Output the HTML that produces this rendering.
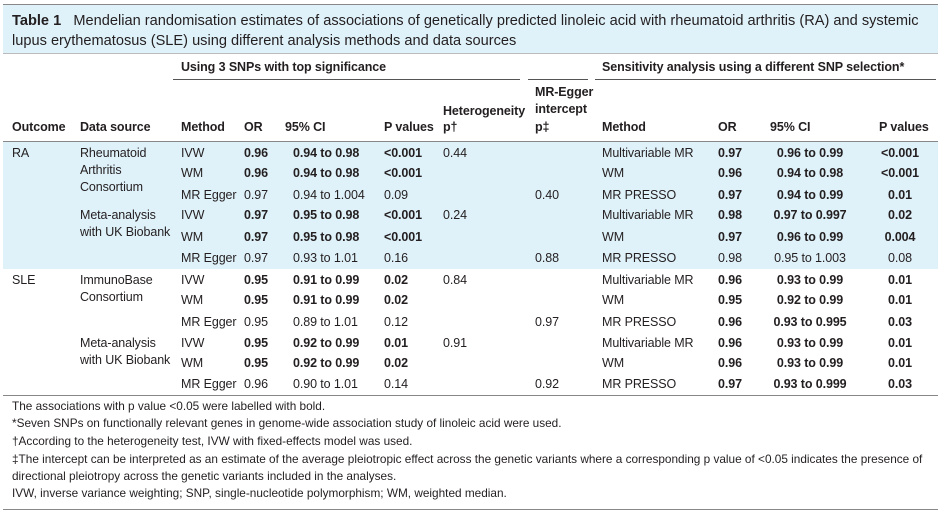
<!DOCTYPE html>
<html><head><meta charset="utf-8"><style>
body{margin:0;width:940px;height:514px;position:relative;background:#fff;font-family:"Liberation Sans",sans-serif;color:#231f20;overflow:hidden}
.t{position:absolute;font-size:12.5px;line-height:16px;white-space:nowrap;letter-spacing:-0.1px}
.b{font-weight:bold}
.c{transform:translateX(-50%)}
.bg{position:absolute;background:#dff1f9}
.ln{position:absolute;height:1px;background:#555}
.f{position:absolute;left:12px;font-size:11.8px;line-height:16px;white-space:nowrap;letter-spacing:0px}
</style></head><body>
<div class="bg" style="left:3px;top:4px;width:935px;height:49px"></div>
<div class="ln" style="left:3px;top:4px;width:935px;background:#888"></div>
<div class="ln" style="left:3px;top:53px;width:935px;background:#bbb"></div>
<div class="t" style="left:12px;top:11px;font-size:14.6px;line-height:20px;letter-spacing:0px"><b>Table 1</b>&nbsp;&nbsp;&nbsp;Mendelian randomisation estimates of associations of genetically predicted linoleic acid with rheumatoid arthritis (RA) and systemic</div>
<div class="t" style="left:12px;top:31px;font-size:14.6px;line-height:20px;letter-spacing:0px">lupus erythematosus (SLE) using different analysis methods and data sources</div>
<div class="bg" style="left:3px;top:142px;width:935px;height:127px"></div>
<div class="t b" style="left:181px;top:59px">Using 3 SNPs with top significance</div>
<div class="t b" style="left:602px;top:59px">Sensitivity analysis using a different SNP selection*</div>
<div class="ln" style="left:173px;top:79px;width:347px"></div>
<div class="ln" style="left:528px;top:79px;width:60px"></div>
<div class="ln" style="left:595px;top:79px;width:341px"></div>
<div class="t b" style="left:443px;top:103px">Heterogeneity</div>
<div class="t b" style="left:535px;top:84px">MR-Egger</div>
<div class="t b" style="left:535px;top:101px">intercept</div>
<div class="t b" style="left:12px;top:119px">Outcome</div>
<div class="t b" style="left:80px;top:119px">Data source</div>
<div class="t b" style="left:181px;top:119px">Method</div>
<div class="t b" style="left:244px;top:119px">OR</div>
<div class="t b" style="left:285px;top:119px">95% CI</div>
<div class="t b" style="left:384px;top:119px">P values</div>
<div class="t b" style="left:443px;top:119px">p†</div>
<div class="t b" style="left:535px;top:119px">p‡</div>
<div class="t b" style="left:602px;top:119px">Method</div>
<div class="t b" style="left:718px;top:119px">OR</div>
<div class="t b" style="left:770px;top:119px">95% CI</div>
<div class="t b" style="left:879px;top:119px">P values</div>
<div class="ln" style="left:3px;top:141px;width:935px;background:#888"></div>
<div class="t" style="left:12px;top:145px">RA</div>
<div class="t" style="left:80px;top:145px">Rheumatoid</div>
<div class="t" style="left:80px;top:162px">Arthritis</div>
<div class="t" style="left:80px;top:179px">Consortium</div>
<div class="t" style="left:80px;top:207px">Meta-analysis</div>
<div class="t" style="left:80px;top:224px">with UK Biobank</div>
<div class="t" style="left:12px;top:272px">SLE</div>
<div class="t" style="left:80px;top:272px">ImmunoBase</div>
<div class="t" style="left:80px;top:289px">Consortium</div>
<div class="t" style="left:80px;top:335px">Meta-analysis</div>
<div class="t" style="left:80px;top:352px">with UK Biobank</div>
<div id="rows"></div>
<div class="ln" style="left:3px;top:395px;width:935px;background:#888"></div>
<div class="f" style="top:398px">The associations with p value &lt;0.05 were labelled with bold.</div>
<div class="f" style="top:415px">*Seven SNPs on functionally relevant genes in genome-wide association study of linoleic acid were used.</div>
<div class="f" style="top:433px">†According to the heterogeneity test, IVW with fixed-effects model was used.</div>
<div class="f" style="top:451px">‡The intercept can be interpreted as an estimate of the average pleiotropic effect across the genetic variants where a corresponding p value of &lt;0.05 indicates the presence of</div>
<div class="f" style="top:468px">directional pleiotropy across the genetic variants included in the analyses.</div>
<div class="f" style="top:485px">IVW, inverse variance weighting; SNP, single-nucleotide polymorphism; WM, weighted median.</div>
<div class="ln" style="left:3px;top:509px;width:935px;background:#888"></div>
<script>
var R=[
[153,"IVW",1,"0.96","0.94 to 0.98","<0.001","0.44","","Multivariable MR",1,"0.97","0.96 to 0.99","<0.001"],
[173,"WM",1,"0.96","0.94 to 0.98","<0.001","","","WM",1,"0.96","0.94 to 0.98","<0.001"],
[195,"MR Egger",0,"0.97","0.94 to 1.004","0.09","","0.40","MR PRESSO",1,"0.97","0.94 to 0.99","0.01"],
[215,"IVW",1,"0.97","0.95 to 0.98","<0.001","0.24","","Multivariable MR",1,"0.98","0.97 to 0.997","0.02"],
[237,"WM",1,"0.97","0.95 to 0.98","<0.001","","","WM",1,"0.97","0.96 to 0.99","0.004"],
[258,"MR Egger",0,"0.97","0.93 to 1.01","0.16","","0.88","MR PRESSO",0,"0.98","0.95 to 1.003","0.08"],
[280,"IVW",1,"0.95","0.91 to 0.99","0.02","0.84","","Multivariable MR",1,"0.96","0.93 to 0.99","0.01"],
[300,"WM",1,"0.95","0.91 to 0.99","0.02","","","WM",1,"0.95","0.92 to 0.99","0.01"],
[322,"MR Egger",0,"0.95","0.89 to 1.01","0.12","","0.97","MR PRESSO",1,"0.96","0.93 to 0.995","0.03"],
[343,"IVW",1,"0.95","0.92 to 0.99","0.01","0.91","","Multivariable MR",1,"0.96","0.93 to 0.99","0.01"],
[363,"WM",1,"0.95","0.92 to 0.99","0.02","","","WM",1,"0.96","0.93 to 0.99","0.01"],
[384,"MR Egger",0,"0.96","0.90 to 1.01","0.14","","0.92","MR PRESSO",1,"0.97","0.93 to 0.999","0.03"]];
var h="";function e(s){return s.replace(/</g,"&lt;")}
function c(x,y,s,b,cen){return '<div class="t'+(b?' b':'')+(cen?' c':'')+'" style="left:'+x+'px;top:'+(y-8)+'px">'+e(s)+'</div>'}
R.forEach(function(r){var y=r[0];
h+=c(181,y,r[1],0)+c(244,y,r[3],r[2])+c(293,y,r[4],r[2])+c(384,y,r[5],r[2])+c(443,y,r[6],0)+c(535,y,r[7],0)
+c(602,y,r[8],0)+c(718,y,r[10],r[9])+c(810,y,r[11],r[9],1)+c(900,y,r[12],r[9],1);});
document.getElementById("rows").innerHTML=h;
</script>
</body></html>
